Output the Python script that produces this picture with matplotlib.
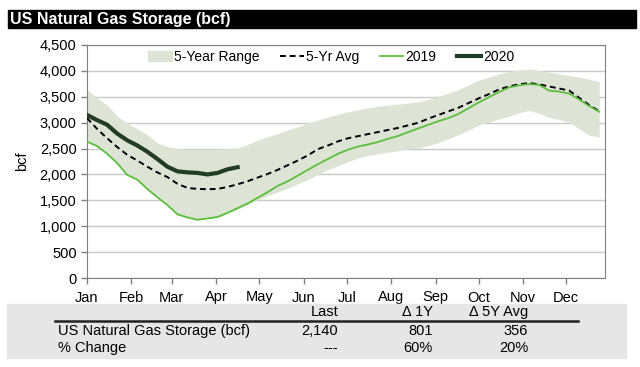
import numpy as np
import matplotlib
matplotlib.use("Agg")
import matplotlib.pyplot as plt
from matplotlib.patches import Rectangle
from matplotlib.lines import Line2D

plt.rcParams["font.family"] = ["Liberation Sans", "DejaVu Sans"]

# weekly points, day of year
days = np.arange(0, 364, 7)

range_hi = [3630, 3480, 3340, 3130, 2990, 2880, 2770, 2610, 2540, 2500, 2490, 2490, 2490,
            2490, 2500, 2510, 2580, 2660, 2730, 2790, 2860, 2920, 2990, 3050, 3110, 3160,
            3210, 3250, 3290, 3320, 3340, 3360, 3380, 3400, 3450, 3510, 3570, 3640, 3730,
            3820, 3880, 3940, 3985, 4020, 4036, 4010, 3975, 3940, 3910, 3880, 3840, 3790]
range_lo = [2632, 2549, 2400, 2220, 1990, 1900, 1720, 1560, 1410, 1230, 1170, 1125, 1150,
            1178, 1250, 1330, 1420, 1510, 1590, 1660, 1740, 1820, 1900, 2000, 2090, 2170,
            2250, 2320, 2370, 2400, 2430, 2460, 2490, 2510, 2560, 2620, 2690, 2770, 2860,
            2950, 3010, 3070, 3120, 3190, 3240, 3180, 3100, 3060, 3010, 2880, 2760, 2720]
avg_5yr = [3090, 2880, 2700, 2530, 2380, 2270, 2150, 2040, 1950, 1820, 1740, 1720, 1715,
           1720, 1760, 1810, 1870, 1940, 2010, 2090, 2180, 2270, 2370, 2490, 2560, 2640,
           2700, 2740, 2780, 2820, 2860, 2900, 2950, 3000, 3080, 3150, 3220, 3290, 3380,
           3470, 3550, 3640, 3700, 3740, 3765, 3740, 3700, 3660, 3620, 3480, 3340, 3220]
s2019 = [2632, 2549, 2400, 2220, 1990, 1900, 1720, 1560, 1410, 1230, 1170, 1125, 1150,
         1178, 1260, 1350, 1440, 1550, 1660, 1780, 1870, 1980, 2090, 2200, 2300, 2400,
         2480, 2540, 2580, 2630, 2690, 2745, 2820, 2890, 2960, 3030, 3090, 3170, 3280,
         3390, 3490, 3590, 3680, 3720, 3745, 3730, 3620, 3600, 3560, 3450, 3320, 3210]
s2020 = [3150, 3050, 2960, 2790, 2660, 2560, 2440, 2300, 2150, 2060, 2040, 2030, 2000,
         2030, 2100, 2140]

month_days = [0, 31, 59, 90, 120, 151, 181, 212, 243, 273, 304, 334]
month_labels = ["Jan", "Feb", "Mar", "Apr", "May", "Jun", "Jul", "Aug", "Sep", "Oct", "Nov", "Dec"]

tbl_cols = ["Last", "\u0394 1Y", "\u0394 5Y Avg"]
tbl_rows = ["US Natural Gas Storage (bcf)", "% Change"]
tbl_vals = [["2,140", "801", "356"], ["---", "60%", "20%"]]

fig = plt.figure(figsize=(6.4, 3.67), dpi=100)
fy = lambda y: 1 - y / 367

# title bar
fig.patches.append(Rectangle((8 / 640, fy(28)), 628 / 640, 18 / 367,
                             transform=fig.transFigure, color="black", zorder=0))
fig.text(10 / 640, fy(19.5), "US Natural Gas Storage (bcf)", color="white",
         fontsize=11.5, fontweight="bold", va="center", ha="left",
         family=["Liberation Sans Narrow", "Liberation Sans", "DejaVu Sans"])

ax = fig.add_axes([87 / 640, 89 / 367, 518 / 640, 233 / 367])
ax.fill_between(days, range_lo, range_hi, color="#dde3d5", lw=0, zorder=1)
ax.plot(days, avg_5yr, color="black", ls=(0, (3, 2)), lw=1.4, zorder=3)
ax.plot(days, s2019, color="#5cbf3c", lw=1.3, zorder=3)
ax.plot(days[:len(s2020)], s2020, color="#203c24", lw=3, zorder=4)

ax.set_xlim(0, 361)
ax.set_ylim(0, 4500)
ax.set_yticks(np.arange(0, 4501, 500))
ax.set_yticklabels([f"{v:,}" for v in range(0, 4501, 500)], fontsize=10.5)
ax.set_xticks(month_days)
ax.set_xticklabels(month_labels, fontsize=10.5)
ax.tick_params(axis="both", direction="out", length=4, color="#808080", width=1)
ax.tick_params(axis="x", pad=5)
ax.grid(axis="y", color="#c8c8c8", lw=1)
ax.set_axisbelow(True)
for sp in ax.spines.values():
    sp.set_color("#808080")
ax.set_ylabel("bcf", fontsize=10.5, labelpad=8)

handles = [Rectangle((0, 0), 1, 1, color="#dde3d5"),
           Line2D([], [], color="black", ls=(0, (3, 2)), lw=1.4),
           Line2D([], [], color="#5cbf3c", lw=1.3),
           Line2D([], [], color="#203c24", lw=3)]
ax.legend(handles, ["5-Year Range", "5-Yr Avg", "2019", "2020"], ncol=4, loc="center",
          bbox_to_anchor=(0.471, 0.948), frameon=False, fontsize=10, handlelength=1.7,
          handletextpad=0.15, columnspacing=1.5, borderpad=0)

# summary table
fig.patches.append(Rectangle((7 / 640, fy(358)), 619 / 640, 54 / 367,
                             transform=fig.transFigure, color="#e6e6e6", zorder=0))
col_x = [338, 433, 528]
for cx, txt in zip(col_x, tbl_cols):
    fig.text(cx / 640, fy(312), txt, ha="right", va="center", fontsize=10.5)
fig.add_artist(Line2D([55 / 640, 578 / 640], [fy(321), fy(321)], color="#222222", lw=1.8))
for ry, name, vals in zip([331, 348], tbl_rows, tbl_vals):
    fig.text(58 / 640, fy(ry), name, ha="left", va="center", fontsize=10.5)
    for cx, v in zip(col_x, vals):
        fig.text(cx / 640, fy(ry), v, ha="right", va="center", fontsize=10.5)

fig.savefig("out.png", dpi=100)
